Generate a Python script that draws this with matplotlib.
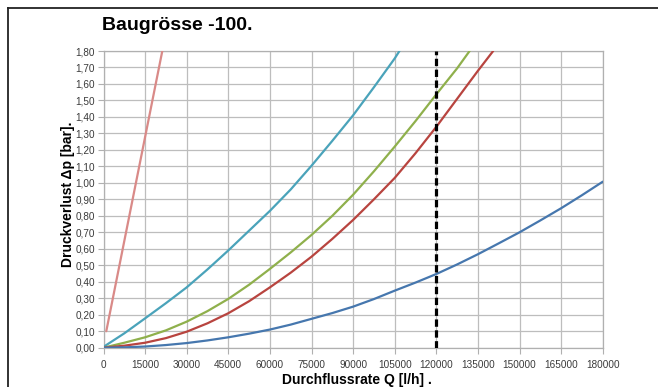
import matplotlib.pyplot as plt
from matplotlib.lines import Line2D

plt.rcParams['font.family'] = ['Liberation Sans', 'DejaVu Sans']

# Druckverlust je Baugröße, Stützstellen alle 7500 l/h
q_blue = [0, 7500, 15000, 22500, 30000, 37500, 45000, 52500, 60000, 67500, 75000, 82500,
          90000, 97500, 105000, 112500, 120000, 127500, 135000, 142500, 150000, 157500,
          165000, 172500, 180000]
dp_blue = [0, 0.002, 0.007, 0.016, 0.028, 0.044, 0.063, 0.085, 0.11, 0.14, 0.175, 0.21,
           0.249, 0.295, 0.346, 0.395, 0.447, 0.505, 0.567, 0.633, 0.70, 0.772,
           0.846, 0.925, 1.007]

q_red = [0, 7500, 15000, 22500, 30000, 37500, 45000, 52500, 60000, 67500, 75000, 82500,
         90000, 97500, 105000, 112500, 120000, 127500, 135000, 140500]
dp_red = [0, 0.012, 0.03, 0.058, 0.097, 0.148, 0.209, 0.282, 0.366, 0.455, 0.552, 0.66,
          0.775, 0.90, 1.03, 1.18, 1.34, 1.51, 1.68, 1.80]

q_green = [0, 7500, 15000, 22500, 30000, 37500, 45000, 52500, 60000, 67500, 75000, 82500,
           90000, 97500, 105000, 112500, 120000, 127500, 132000]
dp_green = [0, 0.030, 0.063, 0.105, 0.158, 0.222, 0.296, 0.382, 0.478, 0.578, 0.684, 0.80,
            0.928, 1.07, 1.22, 1.375, 1.537, 1.695, 1.80]

q_teal = [0, 7500, 15000, 22500, 30000, 37500, 45000, 52500, 60000, 67500, 75000, 82500,
          90000, 97500, 105000, 106700]
dp_teal = [0.005, 0.087, 0.178, 0.27, 0.366, 0.475, 0.59, 0.71, 0.83, 0.96, 1.104, 1.255,
           1.41, 1.58, 1.755, 1.80]

q_pink = [1000, 10500, 21200]
dp_pink = [0.10, 0.90, 1.80]

q_mark = 120000

x_ticks = list(range(0, 180001, 15000))
y_ticks = [i / 10 for i in range(0, 19)]

fig = plt.figure(figsize=(6.58, 3.87), dpi=100)
ax = fig.add_axes([0.1573, 0.1016, 0.7587, 0.7666])

for q, dp, c in [(q_pink, dp_pink, '#d98a88'),
                 (q_teal, dp_teal, '#4aa3ba'),
                 (q_green, dp_green, '#8fb04c'),
                 (q_red, dp_red, '#b8443f'),
                 (q_blue, dp_blue, '#4677ae')]:
    ax.plot(q, dp, color=c, lw=1.6, solid_capstyle='round', solid_joinstyle='round', zorder=3)

ax.plot([q_mark, q_mark], [0, 1.8], color='black', lw=2.3,
        linestyle=(0, (2.3, 1.1)), zorder=4)

ax.set_xlim(0, 180000)
ax.set_ylim(0, 1.8)
ax.set_xticks(x_ticks)
ax.set_xticklabels([str(t) for t in x_ticks])
ax.set_yticks(y_ticks)
ax.set_yticklabels([f'{t:.2f}'.replace('.', ',') for t in y_ticks])
ax.tick_params(labelsize=7.2, colors='#b0b0b0', labelcolor='#3a3a3a', length=4, width=0.8)
ax.tick_params(axis='x', pad=5)
ax.tick_params(axis='y', pad=2)
ax.grid(True, color='#bdbdbd', lw=0.9)
ax.set_axisbelow(True)
for s in ax.spines.values():
    s.set_color('#b0b0b0')
    s.set_linewidth(0.9)

fig.text(0.155, 0.922, 'Baugrösse -100.', fontsize=14, fontweight='bold', ha='left', va='baseline')
fig.text(0.103, 0.497, 'Druckverlust Δp [bar].', fontsize=10, fontweight='bold',
         rotation=90, ha='center', va='center')
fig.text(0.543, 0.018, 'Durchflussrate Q [l/h] .', fontsize=10, fontweight='bold',
         ha='center', va='center')

# Rahmen oben und links
fig.add_artist(Line2D([8 / 658, 1], [1 - 8 / 387, 1 - 8 / 387], color='#222222', lw=1.3))
fig.add_artist(Line2D([8 / 658, 8 / 658], [0, 1 - 8 / 387], color='#222222', lw=1.3))

fig.savefig('out.png', dpi=100)
